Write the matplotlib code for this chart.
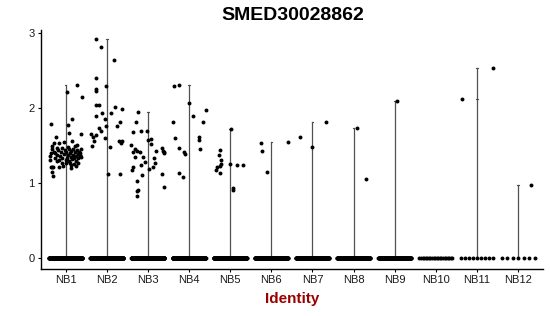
import numpy as np
import matplotlib
matplotlib.use("Agg")
import matplotlib.pyplot as plt

plt.rcParams["font.family"] = ["Liberation Sans", "DejaVu Sans"]

# ====== DATA ======
groups = ["NB1", "NB2", "NB3", "NB4", "NB5", "NB6", "NB7", "NB8", "NB9", "NB10", "NB11", "NB12"]
zero_counts = [400, 400, 400, 350, 350, 250, 250, 200, 150, 22, 9, 7]

# non-zero cells: value and horizontal jitter (in category units)
nb1_vals = [1.79, 2.22, 2.31, 2.15, 1.86, 1.77, 1.67, 1.66, 1.62, 1.55, 1.53, 1.54, 1.56, 1.51, 1.50,
            1.36, 1.31, 1.22, 1.21, 1.22, 1.15, 1.09, 1.22, 1.23, 1.27, 1.27, 1.27, 1.20, 1.23, 1.34, 1.38,
            1.45, 1.42, 1.40, 1.47, 1.38, 1.44, 1.36, 1.41, 1.47, 1.33, 1.39, 1.44, 1.31, 1.41, 1.37, 1.45,
            1.30, 1.40, 1.35, 1.43, 1.32, 1.38, 1.46, 1.34, 1.41, 1.36, 1.30, 1.44, 1.39, 1.33, 1.42, 1.36,
            1.40, 1.35, 1.45, 1.33, 1.29, 1.31, 1.24, 1.26, 1.27, 1.40, 1.48, 1.49]
nb1_jit = [-0.36, 0.04, 0.28, 0.39, 0.15, 0.06, 0.09, 0.37, -0.24, -0.03, -0.29, -0.16, 0.15, 0.27, -0.33,
           -0.38, -0.38, -0.36, -0.33, -0.30, -0.34, -0.31, -0.16, -0.06, -0.08, 0.02, 0.10, 0.14, 0.24, 0.04, 0.34,
           -0.32, -0.28, -0.25, -0.22, -0.20, -0.18, -0.14, -0.12, -0.10, -0.08, -0.05, -0.02, 0.00, 0.02, 0.05, 0.07,
           0.08, 0.10, 0.12, 0.13, 0.16, 0.17, 0.19, 0.20, 0.22, 0.24, 0.25, 0.27, 0.29, 0.30, 0.32, 0.34,
           0.36, 0.38, 0.37, -0.27, -0.22, -0.15, 0.12, 0.20, 0.30, -0.35, 0.05, 0.22]

nb2_vals = [2.92, 2.82, 2.64, 2.40, 2.26, 2.23, 2.29, 2.04, 2.04, 1.93, 1.90, 2.01, 1.99, 1.85, 1.93, 1.76,
            1.74, 1.76, 1.81, 1.66, 1.62, 1.64, 1.69, 1.56, 1.50, 1.48, 1.56, 1.56, 1.54, 1.12, 1.12, 1.60]
nb2_jit = [-0.26, -0.15, 0.18, -0.27, -0.27, -0.27, -0.02, -0.26, -0.20, -0.11, -0.26, 0.19, 0.38, -0.04, 0.10, -0.01,
           -0.19, 0.25, 0.33, -0.38, -0.34, -0.27, -0.15, -0.31, -0.37, 0.07, 0.29, 0.38, 0.34, 0.02, 0.33, -0.05]

nb3_vals = [1.95, 1.81, 1.70, 1.68, 1.69, 1.58, 1.59, 1.52, 1.51, 1.43, 1.41, 1.35, 1.35, 1.28, 1.24, 1.21,
            1.17, 1.43, 1.33, 1.27, 1.22, 1.19, 1.47, 1.43, 1.40, 1.12, 0.95, 1.11, 1.03, 0.91, 0.89, 0.83,
            1.41, 1.46, 1.42]
nb3_jit = [-0.24, -0.30, -0.16, -0.36, -0.02, 0.01, 0.07, 0.08, -0.40, -0.27, -0.36, -0.32, -0.11, -0.08, -0.16, -0.36,
           -0.38, 0.19, 0.15, 0.17, 0.13, 0.03, 0.35, 0.37, 0.40, 0.33, 0.39, -0.14, -0.26, -0.24, -0.26, -0.27,
           0.40, -0.32, -0.19]

nb4_vals = [2.29, 2.31, 2.07, 1.98, 1.89, 1.82, 1.81, 1.61, 1.57, 1.60, 1.47, 1.42, 1.39, 1.45, 1.14, 1.08]
nb4_jit = [-0.36, -0.25, 0.01, 0.40, 0.10, 0.33, -0.38, 0.24, 0.24, -0.33, -0.24, -0.13, -0.10, 0.26, -0.24, -0.15]

nb5_vals = [1.44, 1.38, 1.26, 1.23, 1.21, 1.18, 1.14, 1.25, 1.24, 1.24, 0.94, 0.91, 1.72, 1.31]
nb5_jit = [-0.24, -0.28, -0.22, -0.26, -0.32, -0.35, -0.24, 0.00, 0.16, 0.32, 0.07, 0.06, 0.02, -0.22]

nb6_vals = [1.54, 1.43, 1.15, 1.55]
nb6_jit = [-0.24, -0.23, -0.10, 0.40]
nb7_vals = [1.61, 1.48, 1.82]
nb7_jit = [-0.30, -0.02, 0.32]
nb8_vals = [1.73, 1.05]
nb8_jit = [0.08, 0.31]
nb9_vals = [2.09]
nb9_jit = [0.06]
nb10_vals = []
nb10_jit = []
nb11_vals = [2.12, 2.54]
nb11_jit = [-0.36, 0.40]
nb12_vals = [0.98]
nb12_jit = [0.32]

nonzero_vals = [nb1_vals, nb2_vals, nb3_vals, nb4_vals, nb5_vals, nb6_vals,
                nb7_vals, nb8_vals, nb9_vals, nb10_vals, nb11_vals, nb12_vals]
nonzero_jit = [nb1_jit, nb2_jit, nb3_jit, nb4_jit, nb5_jit, nb6_jit,
               nb7_jit, nb8_jit, nb9_jit, nb10_jit, nb11_jit, nb12_jit]

# ====== PLOT ======
fig = plt.figure(figsize=(5.5, 3.16), dpi=100)
ax = fig.add_axes([0.0745, 0.149, 0.9125, 0.757])

pos = np.arange(1, len(groups) + 1)

for i, g in enumerate(groups):
    x0 = pos[i]
    vals = nonzero_vals[i]
    # violin collapses to a thin line from 0 to the max
    if vals:
        ax.plot([x0, x0], [0, max(vals)], color="#505050", lw=0.9, zorder=1)
        ax.plot([x0 - 0.02, x0 + 0.02], [max(vals), max(vals)], color="#505050", lw=0.8, zorder=1)
    # zero cells spread across the category width
    zx = x0 + np.linspace(-0.4, 0.4, zero_counts[i])
    ax.scatter(zx, np.zeros(len(zx)), s=8, color="black", lw=0, zorder=2)
    if vals:
        ax.scatter(x0 + np.array(nonzero_jit[i]), vals, s=8, color="black", lw=0, zorder=2)

# little bulge on NB11's violin
ax.plot([pos[10] - 0.03, pos[10] + 0.03], [2.12, 2.12], color="#505050", lw=0.8, zorder=1)

ax.set_xlim(0.4, 12.6)
ax.set_ylim(-0.145, 3.045)
ax.set_xticks(pos)
ax.set_xticklabels(groups)
ax.set_yticks([0, 1, 2, 3])
ax.tick_params(axis="both", labelsize=8, length=2.5, width=0.8, color="black", labelcolor="#1a1a1a", pad=2)
for s in ["top", "right"]:
    ax.spines[s].set_visible(False)
for s in ["left", "bottom"]:
    ax.spines[s].set_linewidth(1.0)
    ax.spines[s].set_color("black")

ax.set_xlabel("Identity", fontsize=11, fontweight="bold", color="#9b0000", labelpad=5)
fig.text(0.533, 0.952, "SMED30028862", fontsize=14, fontweight="bold", ha="center", va="center")

fig.savefig("out.png", dpi=100)
